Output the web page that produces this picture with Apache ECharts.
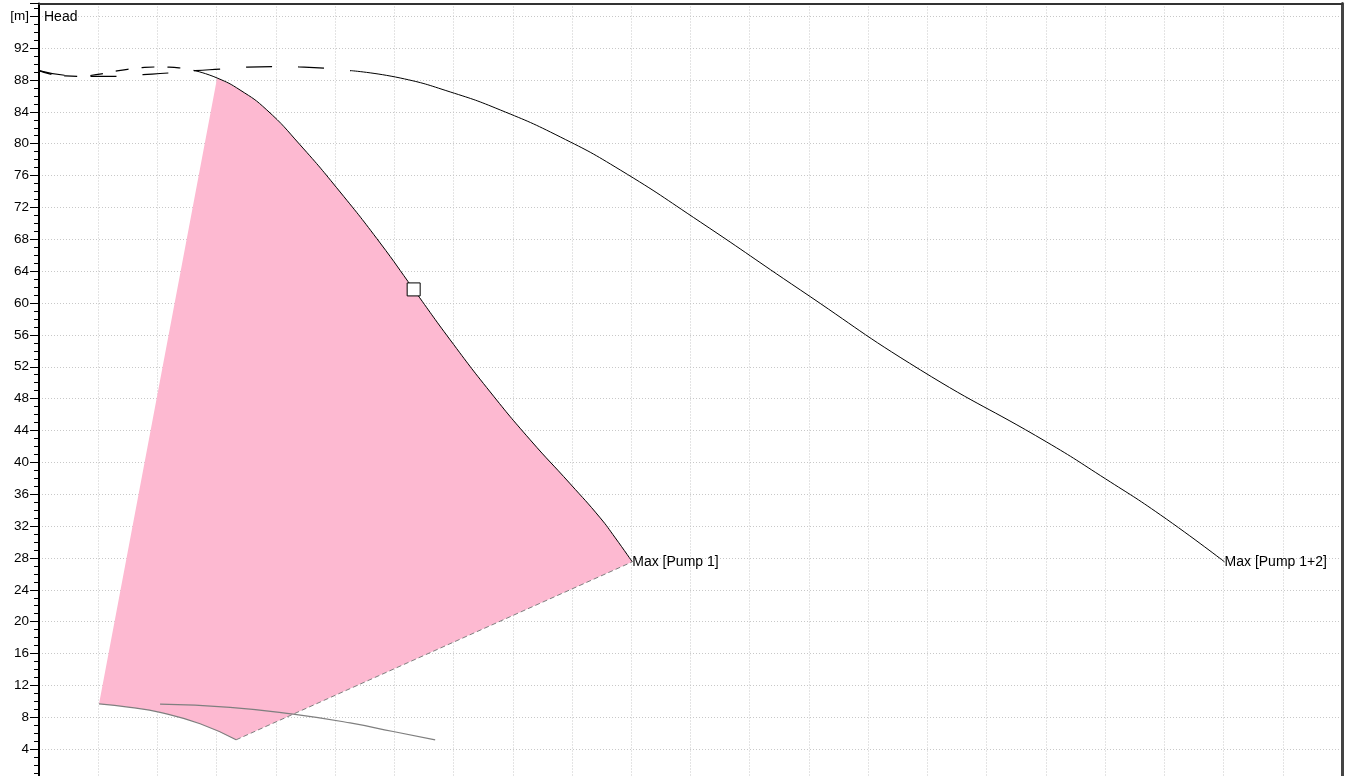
<!DOCTYPE html>
<html><head><meta charset="utf-8">
<script src="https://cdn.jsdelivr.net/npm/echarts@6/dist/echarts.min.js"></script>
<style>html,body{margin:0;padding:0;background:#fff}#c{width:1351px;height:776px}</style>
</head><body><div id="c"></div>
<script>
// ---- data (x = flow in grid units, y = head [m]) ----
const yLabelUnit = '[m]';
const yUnitTick = 96;
const axisTitle = 'Head';

// Pump 1, unstable (dashed) part
const p1DashQ = [0, 0.220, 0.439, 0.659, 0.861, 1.115, 1.318, 1.537, 1.740, 1.993, 2.196, 2.416, 2.635];
const p1DashH = [89.17, 88.69, 88.52, 88.46, 88.56, 88.84, 89.14, 89.38, 89.55, 89.63, 89.62, 89.47, 89.17];

// Pump 1, operating (solid) part
const p1Q = [2.635, 3.007, 3.395, 3.846, 4.409, 5.084, 5.760, 6.326, 6.943, 7.618, 8.294, 8.970, 9.476, 9.730, 10.017];
const p1H = [89.17, 88.25, 86.74, 84.24, 79.85, 73.94, 67.54, 61.71, 55.37, 48.84, 42.82, 37.30, 33.03, 30.52, 27.51];

// Pump 1+2, unstable (dashed) part
const p12DashQ = [0, 0.439, 0.878, 1.318, 1.757, 2.196, 2.635, 3.091, 3.514, 3.953, 4.392, 4.848, 5.270];
const p12DashH = [89.17, 88.59, 88.46, 88.46, 88.66, 88.88, 89.17, 89.38, 89.62, 89.68, 89.63, 89.47, 89.17];

// Pump 1+2, operating (solid) part
const p12Q = [5.270, 6.098, 6.943, 7.787, 8.801, 9.814, 11.166, 12.855, 14.882, 17.010, 18.007, 18.936, 20.017];
const p12H = [89.17, 88.25, 86.50, 84.24, 80.85, 76.70, 70.17, 61.64, 51.60, 42.57, 37.93, 33.40, 27.51];

// Lower boundary curves (grey)
const lowAQ = [1.014, 1.537, 2.044, 2.720, 3.328];
const lowAH = [9.69, 9.25, 8.62, 7.18, 5.17];
const lowBQ = [2.044, 3.226, 4.291, 5.253, 5.980, 6.689];
const lowBH = [9.65, 9.25, 8.39, 7.29, 6.21, 5.17];

// Operating point (square marker)
const dutyQ = 6.326, dutyH = 61.71;

// Max labels
const maxNames = ['Max [Pump 1]', 'Max [Pump 1+2]'];
const maxQ = [10.017, 20.017];
const maxH = [27.51, 27.51];

// start of pink area on pump 1 curve
const areaStartQ = 3.007;

// ---- build ----
const zip = (a, b) => a.map((v, i) => [v, b[i]]);
const SMOOTH = 0.5;

// Catmull-Rom sampling in pixel space so the pink area follows the curved edges
function sampleCurve(pts, steps) {
  const out = [];
  for (let i = 0; i < pts.length - 1; i++) {
    const p0 = pts[Math.max(0, i - 1)], p1 = pts[i], p2 = pts[i + 1], p3 = pts[Math.min(pts.length - 1, i + 2)];
    for (let s = 0; s < steps; s++) {
      const t = s / steps, t2 = t * t, t3 = t2 * t;
      const f = k => 0.5 * ((2 * p1[k]) + (-p0[k] + p2[k]) * t + (2 * p0[k] - 5 * p1[k] + 4 * p2[k] - p3[k]) * t2 + (-p0[k] + 3 * p1[k] - 3 * p2[k] + p3[k]) * t3);
      out.push([f(0), f(1)]);
    }
  }
  out.push(pts[pts.length - 1]);
  return out;
}

const FONT = 'Liberation Sans, Arial, sans-serif';
const chart = echarts.init(document.getElementById('c'), null, { renderer: 'canvas' });
chart.setOption({
  animation: false,
  backgroundColor: '#fff',
  title: { text: axisTitle, left: 44, top: 10, padding: 0,
    textStyle: { fontFamily: FONT, fontSize: 14, fontWeight: 'normal', color: '#000' } },
  grid: { left: 39, right: 9, top: 3.5, bottom: -5, containLabel: false, outerBoundsMode: 'none' },
  xAxis: [{
    type: 'value', min: 0, max: 22, interval: 1, position: 'bottom',
    axisLine: { show: false }, axisTick: { show: false }, axisLabel: { show: false },
    splitLine: { show: true, lineStyle: { color: '#c8c8c8', width: 1, type: [1, 2] } }
  }, {
    type: 'value', min: 0, max: 22, position: 'top',
    axisLine: { show: true, onZero: false, lineStyle: { color: '#333', width: 2 } },
    axisTick: { show: false }, axisLabel: { show: false }, splitLine: { show: false }
  }],
  yAxis: [{
    type: 'value', min: 0, max: 97.6, interval: 4, position: 'left',
    axisLine: { show: true, onZero: false, lineStyle: { color: '#000', width: 2 } },
    axisTick: { show: true, length: 9, lineStyle: { color: '#000', width: 1 } },
    minorTick: { show: true, splitNumber: 4, length: 5, lineStyle: { color: '#000', width: 1 } },
    axisLabel: { show: true, margin: 10, showMaxLabel: false, color: '#000', fontFamily: FONT, fontSize: 13.5,
      formatter: v => (v === yUnitTick ? yLabelUnit : String(v)) },
    splitLine: { show: true, lineStyle: { color: '#c8c8c8', width: 1, type: [1, 2] } }
  }, {
    type: 'value', min: 0, max: 97.6, position: 'right',
    axisLine: { show: true, onZero: false, lineStyle: { color: '#444', width: 3 } },
    axisTick: { show: false }, axisLabel: { show: false }, splitLine: { show: false }
  }],
  series: [
    {
      type: 'custom', z: 1, silent: true,
      data: [[0, 0]],
      renderItem: (params, api) => {
        const edge = [];
        p1Q.forEach((q, i) => { if (q >= areaStartQ - 1e-9) edge.push(api.coord([q, p1H[i]])); });
        const top = sampleCurve(edge, 12);
        const pts = [api.coord([lowAQ[0], lowAH[0]])].concat(top);
        const low = sampleCurve(zip(lowAQ, lowAH).map(p => api.coord(p)), 8).reverse();
        for (let i = 0; i < low.length - 1; i++) pts.push(low[i]);
        return { type: 'polygon', shape: { points: pts }, style: { fill: '#fdb9d1', stroke: null } };
      }
    },
    { type: 'line', z: 3, data: zip(lowAQ, lowAH), smooth: SMOOTH, symbol: 'none',
      lineStyle: { color: '#7f7f7f', width: 1.2 } },
    { type: 'line', z: 3, data: zip(lowBQ, lowBH), smooth: SMOOTH, symbol: 'none',
      lineStyle: { color: '#7f7f7f', width: 1.2 } },
    { type: 'line', z: 3, data: [[lowAQ[lowAQ.length - 1], lowAH[lowAH.length - 1]], [maxQ[0], maxH[0]]], symbol: 'none',
      lineStyle: { color: '#7f7f7f', width: 1, type: [5, 3] } },
    { type: 'line', z: 4, data: zip(p1DashQ, p1DashH), smooth: SMOOTH, symbol: 'none',
      lineStyle: { color: '#000', width: 1.2, type: [13, 13] } },
    { type: 'line', z: 4, data: zip(p12DashQ, p12DashH), smooth: SMOOTH, symbol: 'none',
      lineStyle: { color: '#000', width: 1.2, type: [26, 26] } },
    { type: 'line', z: 4, data: zip(p1Q, p1H), smooth: SMOOTH, symbol: 'none',
      lineStyle: { color: '#000', width: 1 } },
    { type: 'line', z: 4, data: zip(p12Q, p12H), smooth: SMOOTH, symbol: 'none',
      lineStyle: { color: '#000', width: 1 } },
    { type: 'scatter', z: 6, data: [[dutyQ, dutyH]], symbol: 'rect', symbolSize: 13,
      itemStyle: { color: '#fff', borderColor: '#000', borderWidth: 1, opacity: 1 } },
    { type: 'scatter', z: 6, symbolSize: 0, itemStyle: { color: 'rgba(0,0,0,0)' },
      data: maxNames.map((n, i) => ({ value: [maxQ[i], maxH[i]], name: n })),
      label: { show: true, position: 'right', distance: 0, formatter: p => p.name,
        color: '#000', opacity: 1, fontFamily: FONT, fontSize: 14 } }
  ]
});
</script></body></html>
